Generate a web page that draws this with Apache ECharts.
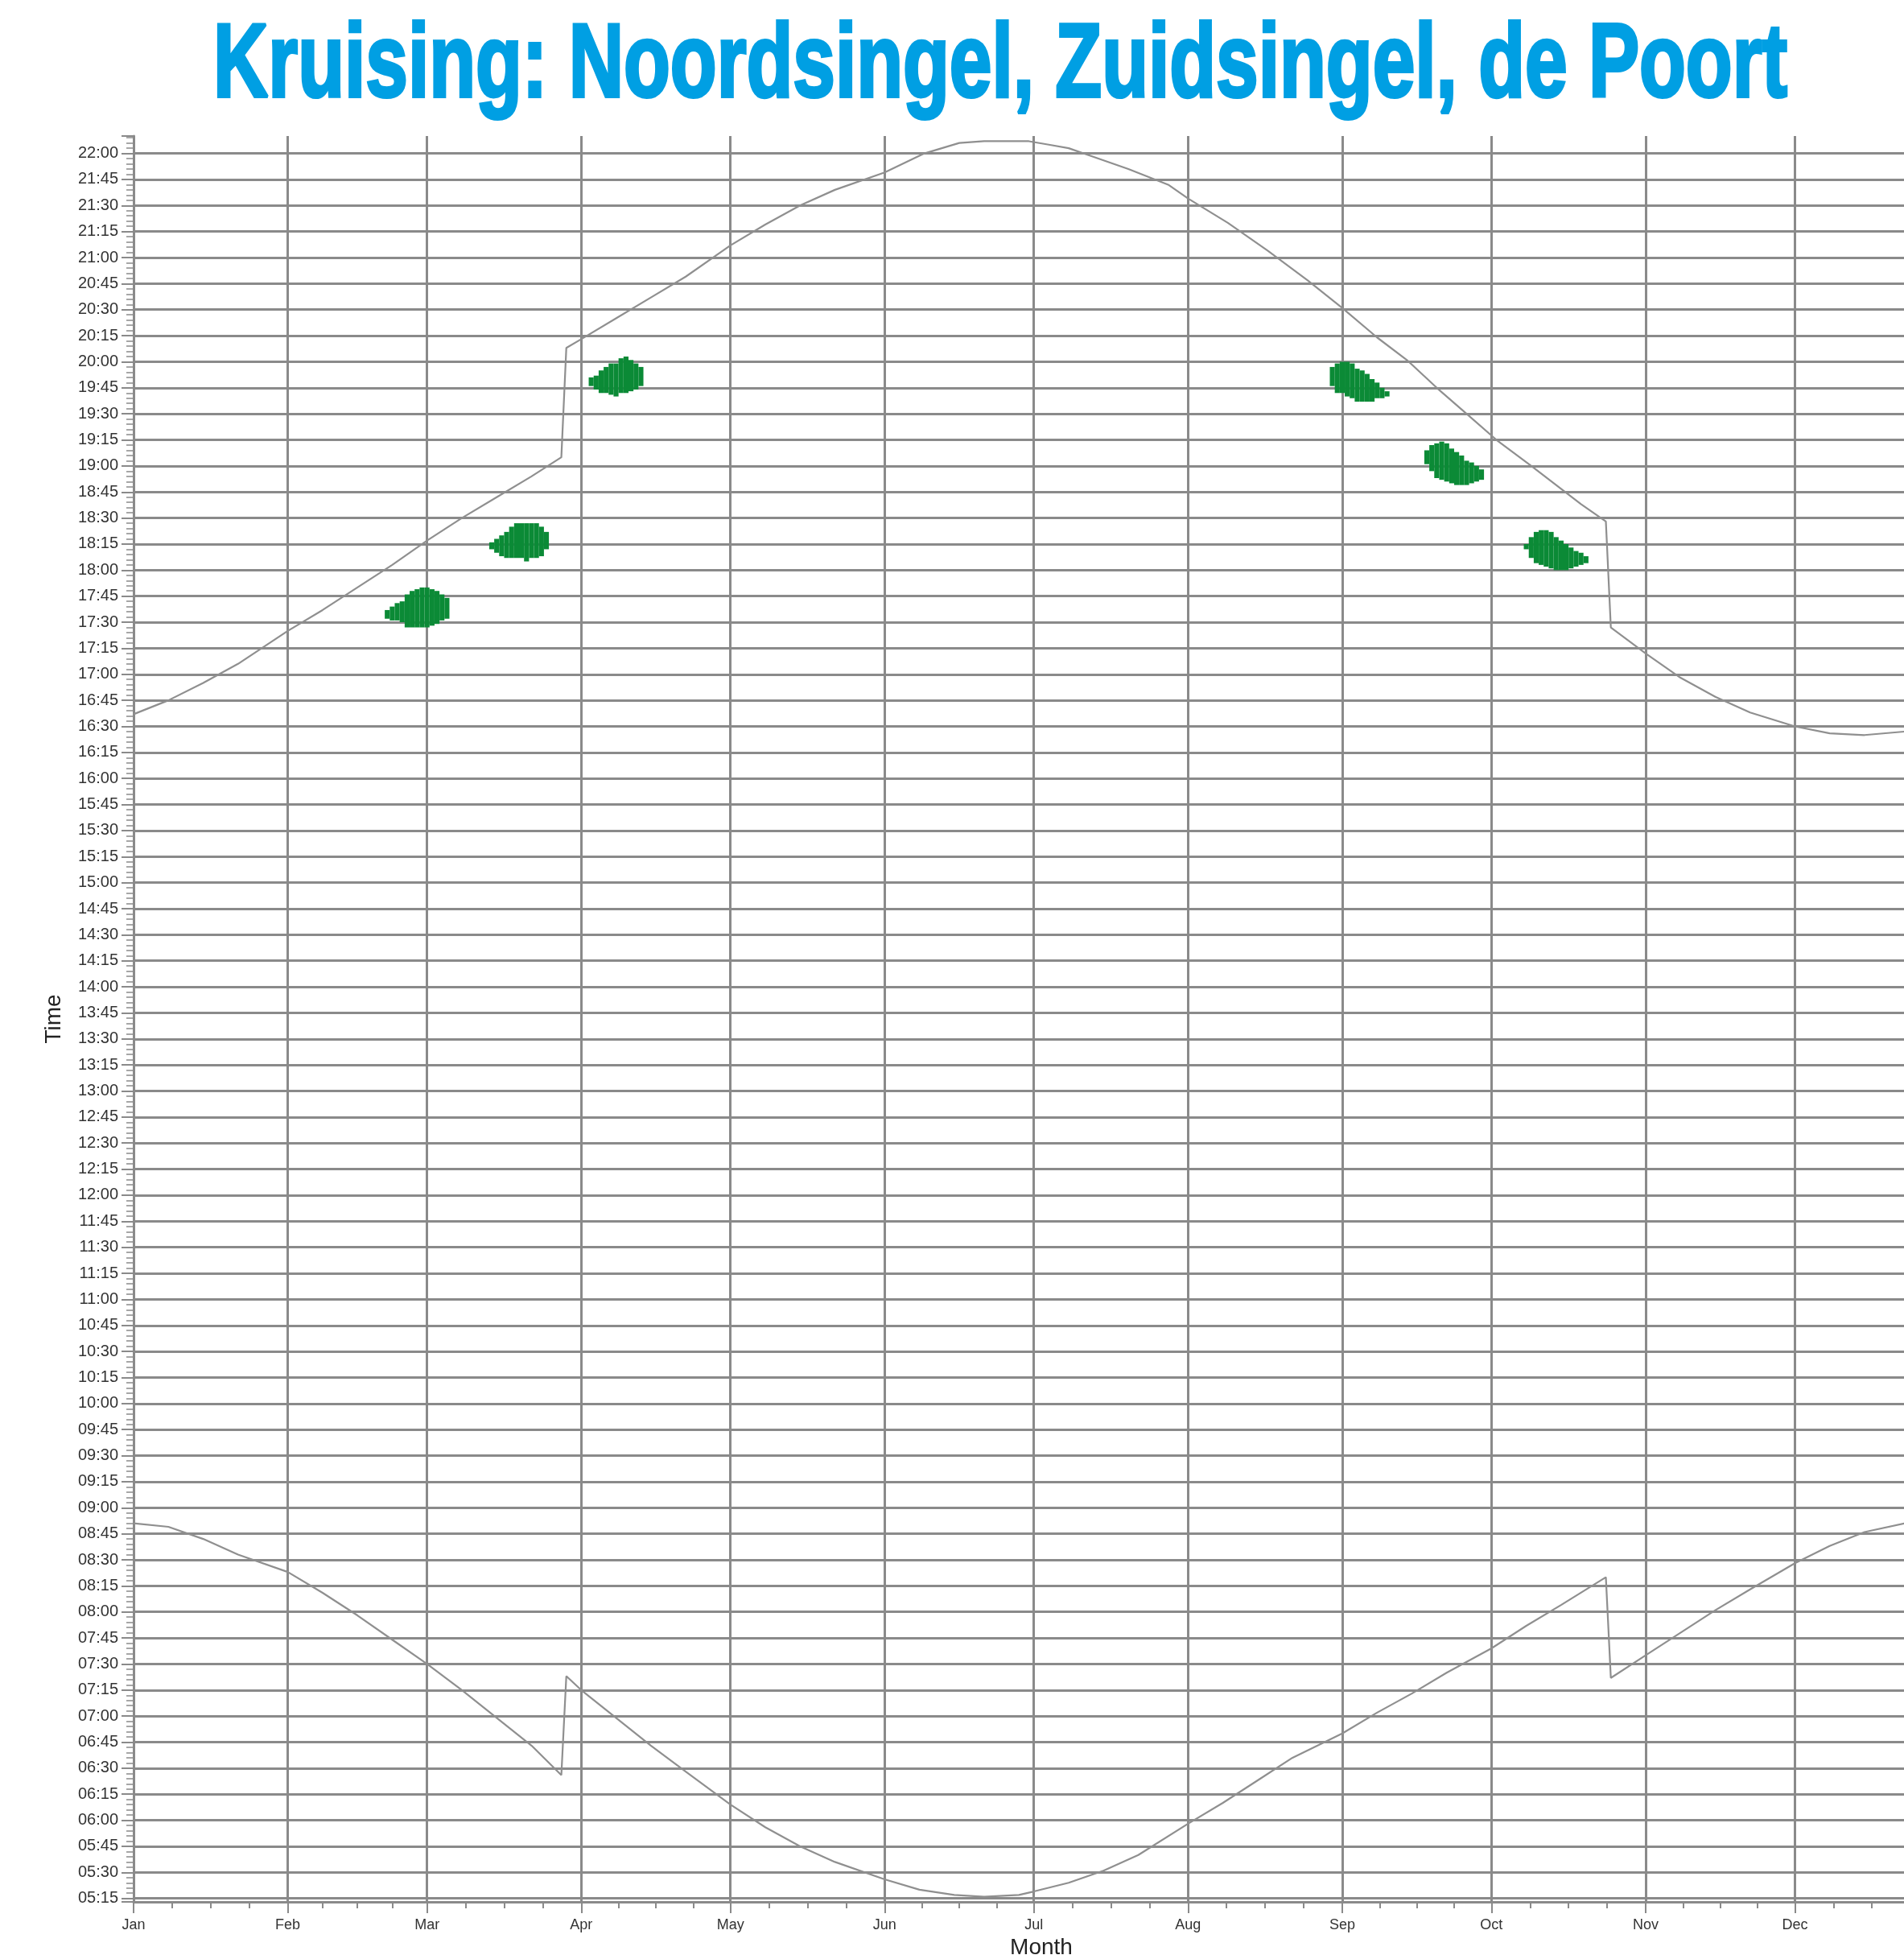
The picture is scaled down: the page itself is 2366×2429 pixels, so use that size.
<!DOCTYPE html>
<html>
<head>
<meta charset="utf-8">
<script src="https://cdn.jsdelivr.net/npm/echarts@6/dist/echarts.min.js"></script>
<style>
html,body{margin:0;padding:0;background:#fff;}
#c{width:2366px;height:2429px;}
</style>
</head>
<body>
<div id="c"></div>
<script>
// ---------- data ----------
const chartTitle = 'Kruising: Noordsingel, Zuidsingel, de Poort';
const monthNames = ['Jan','Feb','Mar','Apr','May','Jun','Jul','Aug','Sep','Oct','Nov','Dec'];
const monthStartDays = [0,31,59,90,120,151,181,212,243,273,304,334];
const yearEndDay = 365;
const timeStepMinutes = 15;
const yMinMinutes = 313;   // ~05:13
const yMaxMinutes = 1330;  // ~22:10

// sunset line: [day of year, minutes after midnight]
const sunsetData = [
  [0,997],[7,1005],[14,1015],[21,1026],[31,1045],[38,1057],[45,1070],[52,1083],
  [59,1097],[66,1110],[73,1122],[80,1134],[86,1145],[87,1208],[90,1213],[97,1225],
  [104,1237],[111,1249],[120,1267],[127,1279],[134,1290],[141,1299],[151,1309],
  [159,1320],[166,1326],[171,1327],[180,1327],[184,1325],[188,1323],[192,1319],
  [200,1311],[208,1302],[212,1294],[220,1280],[228,1264],[236,1247],[243,1231],
  [250,1214],[256,1201],[262,1185],[268,1170],[274,1155],[281,1140],[286,1129],
  [291,1118],[296,1108],[297,1047],[304,1032],[311,1018],[318,1007],[325,998],
  [334,990],[341,986],[348,985],[356,987],[365,993]
];
// sunrise line
const sunriseData = [
  [0,531],[7,529],[14,522],[21,513],[31,503],[38,491],[45,478],[52,464],
  [59,450],[66,435],[73,419],[80,403],[86,386],[87,443],[90,435],[97,419],
  [104,403],[111,388],[120,369],[127,356],[134,345],[141,336],[151,326],
  [158,320],[165,317],[171,316],[178,317],[181,319],[188,324],[195,331],
  [202,340],[212,358],[219,370],[226,383],[233,396],[243,410],[250,422],
  [257,433],[264,445],[273,459],[280,472],[287,484],[296,500],[297,442],
  [304,455],[311,468],[318,481],[325,493],[334,508],[341,518],[348,526],
  [356,531],[365,531]
];
// green clusters: [day, low minute, high minute] per column
const blobEarlyMar = [
  [51,1052,1057],[52,1051,1059],[53,1051,1061],[54,1050,1062],[55,1047,1066],
  [56,1047,1068],[57,1047,1069],[58,1047,1070],[59,1047,1070],[60,1048,1069],
  [61,1049,1068],[62,1051,1066],[63,1052,1064]
];
const blobMidMar = [
  [72,1092,1096],[73,1090,1098],[74,1088,1100],[75,1087,1102],[76,1087,1105],
  [77,1087,1107],[78,1087,1107],[79,1085,1107],[80,1087,1107],[81,1087,1107],
  [82,1088,1105],[83,1092,1102]
];
const blobApr = [
  [92,1186,1191],[93,1184,1192],[94,1182,1195],[95,1182,1197],[96,1181,1199],
  [97,1180,1199],[98,1182,1202],[99,1182,1203],[100,1183,1201],[101,1184,1199],
  [102,1186,1197]
];
const blobSep = [
  [241,1186,1197],[242,1182,1199],[243,1182,1200],[244,1180,1200],[245,1179,1199],
  [246,1177,1196],[247,1177,1195],[248,1177,1193],[249,1177,1190],[250,1179,1188],
  [251,1179,1185],[252,1180,1183]
];
const blobLateSep = [
  [260,1141,1149],[261,1137,1152],[262,1133,1153],[263,1132,1154],[264,1131,1153],
  [265,1130,1150],[266,1129,1148],[267,1129,1146],[268,1129,1143],[269,1130,1142],
  [270,1131,1140],[271,1132,1138]
];
const blobOct = [
  [280,1092,1095],[281,1087,1099],[282,1084,1102],[283,1083,1103],[284,1082,1103],
  [285,1081,1102],[286,1080,1099],[287,1080,1097],[288,1080,1095],[289,1081,1093],
  [290,1082,1091],[291,1083,1090],[292,1084,1088]
];

// ---------- derived (axis helpers) ----------
const quarterTicks = [];
monthStartDays.forEach((s, i) => {
  const e = i < monthStartDays.length - 1 ? monthStartDays[i + 1] : yearEndDay;
  for (let k = 1; k < 4; k++) quarterTicks.push(s + (e - s) * k / 4);
});
const blobCells = [].concat(blobEarlyMar, blobMidMar, blobApr, blobSep, blobLateSep, blobOct);

const pad = n => String(n).padStart(2, '0');
const fmtTime = v => pad(Math.floor(v / 60)) + ':' + pad(Math.round(v % 60));

// ---------- style ----------
const gridColor = '#8a8a8a';
const lineColor = '#8f8f8f';
const blobColor = '#0b8a36';
const titleColor = '#009fe3';
const titleFamily = '"Liberation Sans Narrow", "Liberation Sans", Arial, sans-serif';
const titleSize = 130;

const mctx = document.createElement('canvas').getContext('2d');
mctx.font = 'bold ' + titleSize + 'px ' + titleFamily;
const titleScale = 1956 / mctx.measureText(chartTitle).width;

const chart = echarts.init(document.getElementById('c'), null, {renderer: 'canvas', width: 2366, height: 2429});

const option = {
  backgroundColor: '#ffffff',
  animation: false,
  graphic: [{
    type: 'text', x: 1243, y: 84, scaleX: titleScale, z: 100,
    style: {
      text: chartTitle, fill: titleColor, fontSize: titleSize, fontWeight: 'bold',
      fontFamily: titleFamily, align: 'center', verticalAlign: 'middle',
      stroke: titleColor, lineWidth: 4
    }
  }],
  grid: {left: 166, right: -56, top: 169, bottom: 66, containLabel: false, outerBoundsMode: 'none'},
  xAxis: [{
    type: 'value', min: 0, max: yearEndDay,
    name: 'Month', nameLocation: 'middle', nameGap: 32,
    nameTextStyle: {fontSize: 28, color: '#222', fontFamily: 'Liberation Sans, Arial, sans-serif'},
    axisLine: {show: true, lineStyle: {color: gridColor, width: 3}},
    axisTick: {show: true, customValues: monthStartDays, length: 14, lineStyle: {color: gridColor, width: 2}},
    axisLabel: {
      show: true, customValues: monthStartDays, margin: 20, fontSize: 18, color: '#333',
      fontFamily: 'Liberation Sans, Arial, sans-serif',
      formatter: v => monthNames[monthStartDays.indexOf(Math.round(v))] || ''
    },
    splitLine: {show: true, lineStyle: {color: gridColor, width: 3}}
  }, {
    type: 'value', min: 0, max: yearEndDay, position: 'bottom',
    axisLine: {show: false},
    axisTick: {show: true, customValues: quarterTicks, length: 8, lineStyle: {color: gridColor, width: 2}},
    axisLabel: {show: false},
    splitLine: {show: false}
  }],
  yAxis: {
    type: 'value', min: yMinMinutes, max: yMaxMinutes,
    minInterval: timeStepMinutes, maxInterval: timeStepMinutes,
    name: 'Time', nameLocation: 'middle', nameGap: 85,
    nameTextStyle: {fontSize: 28, color: '#222', fontFamily: 'Liberation Sans, Arial, sans-serif'},
    axisLine: {show: true, lineStyle: {color: gridColor, width: 3}},
    axisTick: {show: true, length: 15, lineStyle: {color: gridColor, width: 2}},
    minorTick: {show: true, splitNumber: 5, length: 9, lineStyle: {color: gridColor, width: 1.5}},
    axisLabel: {
      margin: 19, fontSize: 20, color: '#333', fontFamily: 'Liberation Sans, Arial, sans-serif',
      showMinLabel: true, showMaxLabel: true,
      formatter: v => (Math.round(v) % timeStepMinutes === 0 ? fmtTime(v) : '')
    },
    splitLine: {show: true, showMinLine: false, showMaxLine: false, lineStyle: {color: gridColor, width: 3}}
  },
  series: [{
    type: 'custom', name: 'clusters', xAxisIndex: 0, yAxisIndex: 0, data: blobCells, z: 3,
    renderItem: (params, api) => {
      const d = api.value(0), lo = api.value(1), hi = api.value(2);
      const p1 = api.coord([d - 0.5, hi]);
      const p2 = api.coord([d + 0.5, lo]);
      return {type: 'rect', shape: {x: p1[0], y: p1[1], width: p2[0] - p1[0], height: p2[1] - p1[1]},
        style: {fill: blobColor}};
    }
  }, {
    type: 'line', name: 'sunset', data: sunsetData, showSymbol: false, symbol: 'none', z: 4,
    lineStyle: {color: lineColor, width: 2.2}
  }, {
    type: 'line', name: 'sunrise', data: sunriseData, showSymbol: false, symbol: 'none', z: 4,
    lineStyle: {color: lineColor, width: 2.2}
  }]
};
chart.setOption(option);
</script>
</body>
</html>
